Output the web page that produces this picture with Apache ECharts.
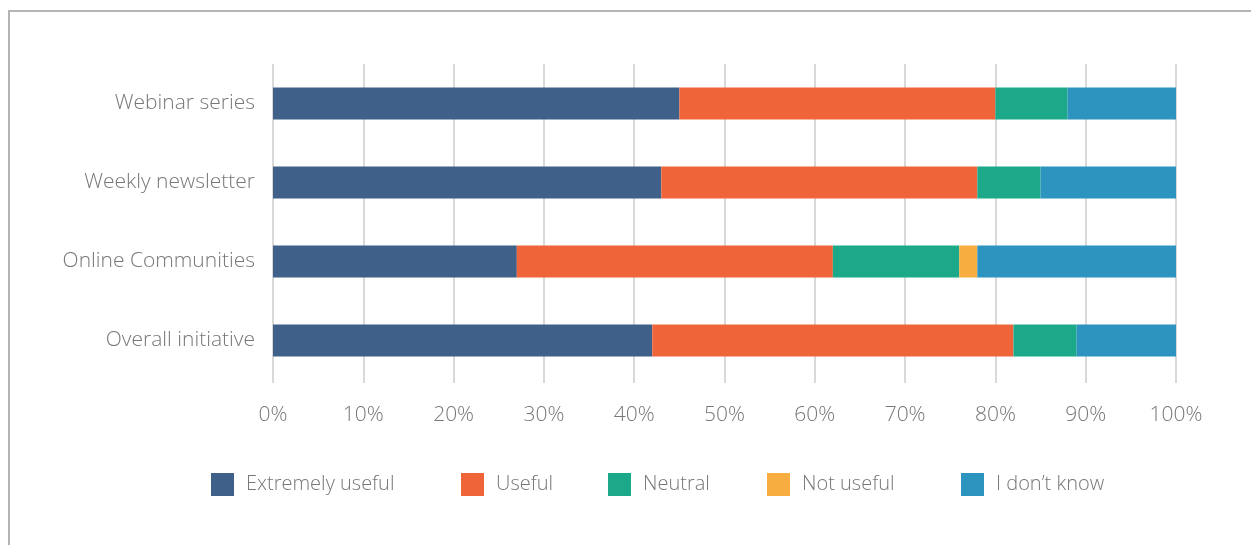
<!DOCTYPE html>
<html>
<head>
<meta charset="utf-8">
<script src="https://cdn.jsdelivr.net/npm/echarts@6/dist/echarts.min.js"></script>
<style>
  html, body { margin: 0; padding: 0; background: #fff; overflow: hidden; }
  #frame {
    position: absolute; left: 8px; top: 10px; width: 1400px; height: 700px;
    border-top: 2px solid #b4b4b4; border-left: 2px solid #b4b4b4; box-sizing: border-box;
  }
  #chart { position: absolute; left: 0; top: 0; width: 1251px; height: 545px; }
</style>
</head>
<body>
<div id="frame"></div>
<div id="chart"></div>
<script>
// bottom to top (ECharts category axis starts at the bottom)
const categories = ['Overall initiative', 'Online Communities', 'Weekly newsletter', 'Webinar series']
const extremelyUseful = [42, 27, 43, 45]
const useful = [40, 35, 35, 35]
const neutral = [7, 14, 7, 8]
const notUseful = [0, 2, 0, 0]
const dontKnow = [11, 22, 15, 12]
const xTicks = [0, 10, 20, 30, 40, 50, 60, 70, 80, 90, 100]

const seriesDefs = [
  { name: 'Extremely useful', data: extremelyUseful, color: '#3f6089' },
  { name: 'Useful', data: useful, color: '#f0643a' },
  { name: 'Neutral', data: neutral, color: '#1ba98a' },
  { name: 'Not useful', data: notUseful, color: '#f8ad40' },
  { name: 'I don\u2019t know', data: dontKnow, color: '#2d93bf' }
]

// each legend entry sits in its own slot, like the original
const legendLeft = [211, 461, 608, 767, 961]

const textFont = '"Open Sans", "Noto Sans", sans-serif'

const chart = echarts.init(document.getElementById('chart'), null, { renderer: 'canvas' })

chart.setOption({
  animation: false,
  grid: { left: 273, right: 75, top: 64, bottom: 165, containLabel: false },
  xAxis: {
    type: 'value',
    min: 0,
    max: 100,
    interval: 10,
    axisLine: { show: false },
    axisTick: { show: true, length: 3, lineStyle: { color: '#d9d9d9', width: 2 } },
    splitLine: { show: true, lineStyle: { color: '#d9d9d9', width: 2 } },
    axisLabel: {
      formatter: v => (xTicks.includes(v) ? v + '%' : ''),
      color: '#777',
      fontFamily: textFont,
      fontWeight: 300,
      fontSize: 21,
      margin: 25
    }
  },
  yAxis: {
    type: 'category',
    data: categories,
    axisLine: { show: false },
    axisTick: { show: false },
    axisLabel: {
      color: '#777',
      fontFamily: textFont,
      fontWeight: 300,
      fontSize: 21,
      margin: 18
    }
  },
  legend: seriesDefs.map((s, i) => ({
    data: [s.name],
    left: legendLeft[i] - 5,
    top: 468,
    itemWidth: 23,
    itemHeight: 23,
    itemGap: 0,
    icon: 'rect',
    textStyle: { color: '#777', fontFamily: textFont, fontWeight: 300, fontSize: 20, padding: [0, 0, 0, 7] }
  })),
  series: seriesDefs.map(s => ({
    name: s.name,
    type: 'bar',
    stack: 'total',
    barWidth: 32,
    data: s.data,
    itemStyle: { color: s.color },
    emphasis: { disabled: true }
  }))
})
</script>
</body>
</html>
